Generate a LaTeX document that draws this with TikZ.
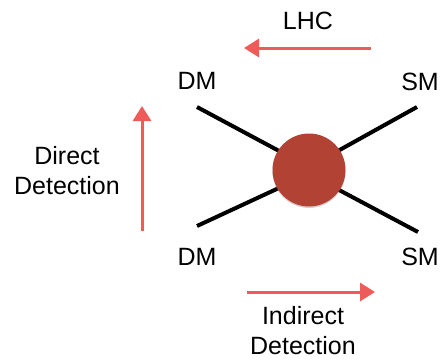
\documentclass[tikz,border=0pt]{standalone}
\usepackage{fontspec}
\setmainfont{Liberation Sans}
\usetikzlibrary{arrows.meta,shadows}
\definecolor{arrowred}{RGB}{238,92,90}
\definecolor{blobred}{RGB}{178,66,52}
\tikzset{
  lbl/.style={inner sep=0pt, align=center, font=\fontsize{25}{30}\selectfont},
  leg/.style={line width=4pt, black},
  redarrow/.style={line width=3pt, arrowred, -{Triangle[width=18pt,length=15pt]}},
}
\begin{document}
\begin{tikzpicture}[x=1pt,y=-1pt]
\useasboundingbox (0,0) rectangle (440,360);
% particle labels
\node[lbl] (dmtop) at (197,81) {DM};
\node[lbl] (dmbot) at (197,257) {DM};
\node[lbl] (smtop) at (420,82) {SM};
\node[lbl] (smbot) at (420,257) {SM};
\node[lbl] (lhc) at (308,21) {LHC};
\node[lbl] (dd) at (67,171) {Direct\\Detection};
\node[lbl] (id) at (303,331) {Indirect\\Detection};
% leg ends
\coordinate (tl) at (197,107);
\coordinate (bl) at (197,226);
\coordinate (tr) at (417,107);
\coordinate (br) at (418,232);
\coordinate (c) at (309,167);
\coordinate (c2) at (309,174);
% legs
\draw[leg] (tl) -- (c);
\draw[leg] (bl) -- (c2);
\draw[leg] (tr) -- (c);
\draw[leg] (br) -- (c2);
% blob
\node[circle, fill=blobred, minimum size=73pt, inner sep=0pt,
      drop shadow={shadow xshift=0pt, shadow yshift=-1.5pt, opacity=0.35}] (blob) at (309,170) {};
% arrows
\coordinate (lhcs) at (371,48);
\coordinate (lhce) at (244,48);
\draw[redarrow] (lhcs) -- (lhce);
\coordinate (dds) at (142,231);
\coordinate (dde) at (142,106);
\draw[redarrow] (dds) -- (dde);
\coordinate (ids) at (247,292);
\coordinate (ide) at (375,292);
\draw[redarrow] (ids) -- (ide);
\end{tikzpicture}
\end{document}
